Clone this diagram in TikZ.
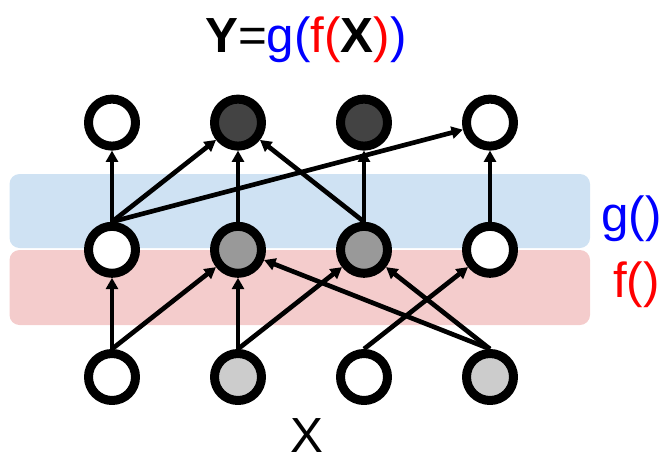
\documentclass[tikz,border=0pt]{standalone}
\usepackage{fontspec}
\setmainfont{Liberation Sans}
\usepackage{xcolor}
\usetikzlibrary{arrows.meta,positioning}
\definecolor{gblue}{HTML}{0000FF}
\definecolor{fred}{HTML}{FF0000}
\definecolor{gband}{HTML}{CFE2F3}
\definecolor{fband}{HTML}{F4CCCC}
\definecolor{unitlight}{HTML}{CCCCCC}
\definecolor{unitmid}{HTML}{999999}
\definecolor{unitdark}{HTML}{434343}
\tikzset{
every picture/.style={line cap=round,line join=round},
plain unit/.style={
  circle,
  draw=black,
  line width=6.75pt,
  minimum size=35.25pt,
  inner sep=0pt,
  fill=white
},
light unit/.style={plain unit, fill=unitlight},
mid unit/.style={plain unit, fill=unitmid},
dark unit/.style={plain unit, fill=unitdark},
net flow/.style={
  draw=black,
  line width=3.5pt,
  line cap=butt,
  -{Triangle[length=8.5pt,width=9pt]}
},
band/.style={rounded corners=7.5pt},
g band/.style={band, fill=gband},
f band/.style={band, fill=fband},
big label/.style={inner sep=0pt, font=\fontsize{37}{40}\selectfont}
}

\begin{document}
\begin{tikzpicture}[
x=0.75pt, y=-0.75pt,
node distance=95.4pt and 94.5pt,
on grid
]
\useasboundingbox (0,0) rectangle (664,461);
% the two layers
\fill[g band] (9.5,174) rectangle (590,248);
\fill[f band] (9.5,250) rectangle (590,325);
% input row
\node[plain unit] (x1) at (112,377) {};
\node[light unit,right=of x1] (x2) {};
\node[plain unit,right=of x2] (x3) {};
\node[light unit,right=of x3] (x4) {};
% hidden row
\node[plain unit,above=of x1] (h1) {};
\node[mid unit,above=of x2] (h2) {};
\node[mid unit,above=of x3] (h3) {};
\node[plain unit,above=of x4] (h4) {};
% output row
\node[plain unit,above=of h1] (y1) {};
\node[dark unit,above=of h2] (y2) {};
\node[dark unit,above=of h3] (y3) {};
\node[plain unit,above=of h4] (y4) {};
% f()
\draw[net flow] (x1.north) -- (h1);
\draw[net flow] (x1.north) -- (h2);
\draw[net flow] (x2.north) -- (h2);
\draw[net flow] (x2.north) -- (h3);
\draw[net flow] (x3.north) -- (h4);
\draw[net flow] (x4.north) -- (h2);
\draw[net flow] (x4.north) -- (h3);
% g()
\draw[net flow] (h1.north) -- (y1);
\draw[net flow] (h1.north) -- (y2);
\draw[net flow] (h1.north) -- (y4);
\draw[net flow] (h2.north) -- (y2);
\draw[net flow] (h3.north) -- (y2);
\draw[net flow] (h3.north) -- (y3);
\draw[net flow] (h4.north) -- (y4);
% labels
\node[big label,anchor=base] (title) at (306,52)
  {\textbf{Y}=\textcolor{gblue}{g(}\textcolor{fred}{f(}\textbf{X}\textcolor{fred}{)}\textcolor{gblue}{)}};
\node[big label,anchor=base west,text=gblue] (glabel) at (601,231) {g()};
\node[big label,anchor=base west,text=fred] (flabel) at (613,297) {f()};
\node[big label,anchor=base] (xlabel) at (307,452) {X};
\end{tikzpicture}
\end{document}
